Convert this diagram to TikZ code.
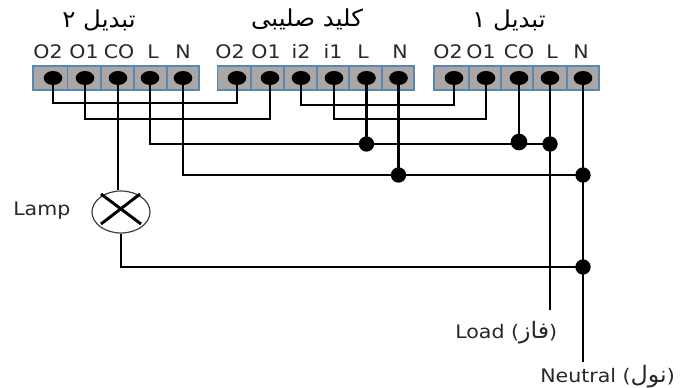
\documentclass[tikz,border=0pt]{standalone}
\usepackage{fontspec}
\usetikzlibrary{shapes.geometric}
\TeXXeTstate=1
\setmainfont{DejaVu Sans}
\newfontfamily\lab[FakeStretch=1.1]{DejaVu Sans}
\newfontfamily\arabicfont[Script=Arabic,FakeStretch=1.05]{DejaVu Sans}
\definecolor{cellgray}{RGB}{172,167,167}
\definecolor{cellblue}{RGB}{88,135,178}
\definecolor{txt}{RGB}{40,40,40}
\newcommand{\arabicbig}{\arabicfont\fontsize{17}{20}\selectfont}
\tikzset{
  x=0.75pt,y=-0.75pt,
  cell/.style={draw=cellblue,line width=1.1pt,fill=cellgray},
  screw/.style={ellipse,fill=black,inner sep=0pt,minimum width=14pt,minimum height=10.5pt},
  wire/.style={line width=2.2pt,black,line join=miter},
  thinwire/.style={line width=1.8pt,black},
  joint/.style={circle,fill=black,inner sep=0pt,minimum size=#1},
  joint/.default=11.5pt,
  termlabel/.style={font=\lab\fontsize{14}{16}\selectfont,text=txt,inner sep=0pt,anchor=base},
  title/.style={font=\arabicfont\fontsize{17.5}{20}\selectfont,text=black,inner sep=0pt},
  note/.style={font=\lab\fontsize{14}{16}\selectfont,text=txt,inner sep=0pt,anchor=base west},
  lampbody/.style={ellipse,draw=black!75,line width=0.9pt,fill=white,inner sep=0pt,minimum width=43.5pt,minimum height=31.5pt},
}
\begin{document}
\begin{tikzpicture}
\useasboundingbox (0,0) rectangle (694,387);
% terminal cells
\foreach \a/\b in {33/67.5,67.5/101,101/134,134/167,167/199,
                   217.5/251,251/284,284/317,317/349,349/382,382/414,
                   434/469,469/501,501/533,533/567,567/599}
  \draw[cell] (\a,66) rectangle (\b,90);
% screws
\foreach \n/\x in {aOtwo/53,aOone/85,aCO/118,aL/150,aN/183,
                   bOtwo/237,bOone/270,bItwo/301,bIone/334,bL/366.5,bN/398.5,
                   cOtwo/454,cOone/486,cCO/519,cL/550,cN/583}
  \node[screw] (\n) at (\x,78) {};
% terminal labels
\foreach \n/\x/\t in {la1/48/O2,la2/84/O1,la3/119/CO,la4/153/L,la5/183/N,
                      lb1/230/O2,lb2/266/O1,lb3/301/i2,lb4/333/i1,lb5/363/L,lb6/400/N,
                      lc1/448/O2,lc2/481/O1,lc3/519/CO,lc4/552/L,lc5/581/N}
  \node[termlabel] (\n) at (\x,58) {\t};
% titles
\node[title] (ta) at (99,20) {\beginR تبدیل ۲\endR};
\node[title] (tb) at (307,19) {\beginR کلید صلیبی\endR};
\node[title] (tc) at (509,20) {\beginR تبدیل ۱\endR};
% levels
\coordinate (y1) at (0,103);
\coordinate (y2) at (0,119);
\coordinate (y3) at (0,105);
\coordinate (y4) at (0,144);
\coordinate (y5) at (0,175);
\coordinate (y6) at (0,267);
% lamp and bus joints
\node[lampbody] (lamp) at (121,212) {};
\node[joint] (jbL) at (366.5,144) {};
\node[joint=12.5pt] (jcCO) at (519,142) {};
\node[joint] (jcL) at (550,144) {};
\node[joint] (jbN) at (398.5,175) {};
\node[joint] (jcN) at (583,175) {};
\node[joint] (jlamp) at (583,267) {};
% free ends
\coordinate (loadend) at (550,310);
\coordinate (neutralend) at (583,362);
% wires
\draw[thinwire] (aOtwo.center) -- (aOtwo|-y1) -- (bOtwo|-y1) -- (bOtwo.center);
\draw[thinwire] (aOone.center) -- (aOone|-y2) -- (bOone|-y2) -- (bOone.center);
\draw[thinwire] (bItwo.center) -- (bItwo|-y3) -- (cOtwo|-y3) -- (cOtwo.center);
\draw[thinwire] (bIone.center) -- (bIone|-y2) -- (cOone|-y2) -- (cOone.center);
\draw[thinwire] (aL.center) -- (aL|-y4) -- (jcL.center);
\draw[thinwire] (aN.center) -- (aN|-y5) -- (jcN.center);
\draw[wire] (bL.center) -- (jbL.center);
\draw[wire] (bN.center) -- (jbN.center);
\draw[wire] (cCO.center) -- (jcCO.center);
\draw[wire] (cL.center) -- (loadend);
\draw[wire] (cN.center) -- (neutralend);
\draw[wire] (aCO.center) -- (aCO|-lamp.north);
\draw[wire] (lamp.south) -- (lamp.south|-y6) -- (jlamp.center);
% lamp cross
\draw[wire] (lamp.center) ++(-20,-18) -- ++(40,30);
\draw[wire] (lamp.center) ++(19,-18) -- ++(-39,30);
% outer labels
\node[note] (lamplabel) at (13,215) {Lamp};
\node[note] (loadlabel) at (455,338) {Load ({\arabicbig\beginR فاز\endR})};
\node[note] (neutrallabel) at (540,382) {Neutral ({\arabicbig\beginR نول\endR})};
\end{tikzpicture}
\end{document}
